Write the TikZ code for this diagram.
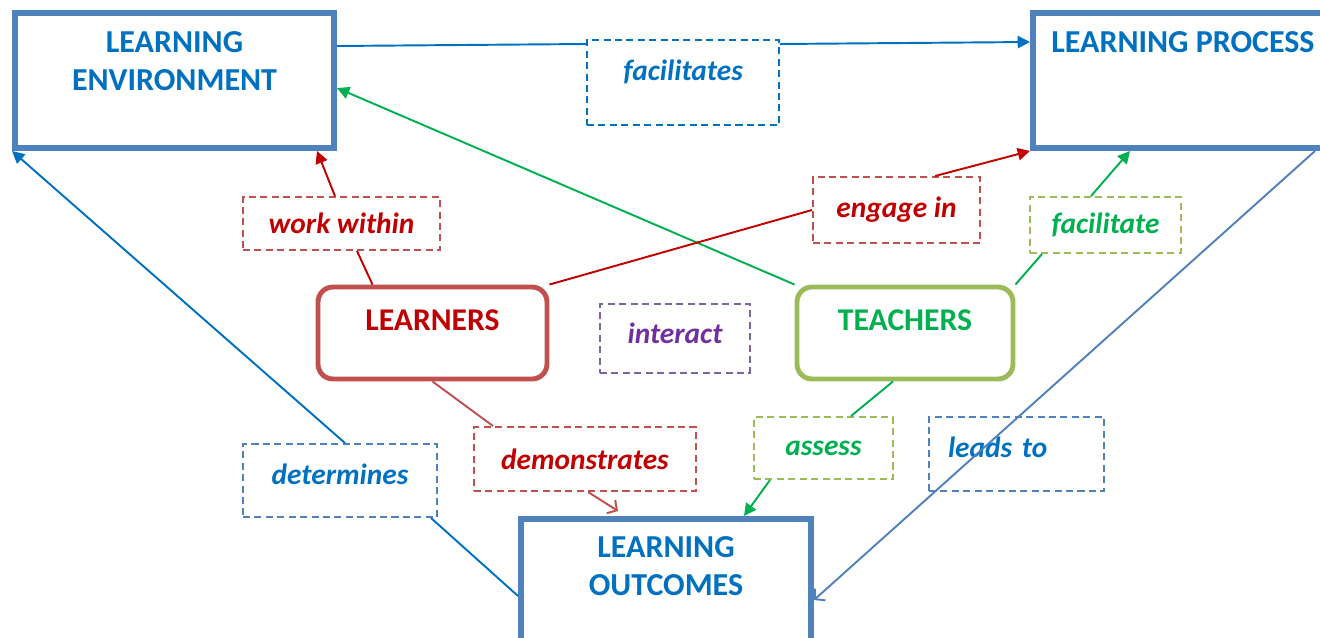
\documentclass[tikz,border=0pt]{standalone}
\usepackage{fontspec}
\setmainfont{Carlito}
\usepackage{tikz}
\usetikzlibrary{arrows.meta}
\usetikzlibrary{positioning}

\definecolor{boxblue}{HTML}{4F81BD}
\definecolor{txtblue}{HTML}{0070C0}
\definecolor{boxred}{HTML}{C0504D}
\definecolor{txtred}{HTML}{C00000}
\definecolor{boxgreen}{HTML}{9BBB59}
\definecolor{txtgreen}{HTML}{00B050}
\definecolor{boxpurple}{HTML}{8064A2}
\definecolor{txtpurple}{HTML}{7030A0}

\begin{document}
\begin{tikzpicture}[
  bigbox/.style={draw=boxblue, line width=3.4pt},
  bigtext/.style={text=txtblue, align=center, inner sep=0pt,
    font=\fontsize{18.2}{21.5}\selectfont\bfseries},
  role/.style={rounded corners=0.3cm, line width=2.8pt, minimum width=#1,
    minimum height=1.84cm, text depth=0.52cm,
    font=\fontsize{18}{21.5}\selectfont\bfseries},
  verb/.style={dash pattern=on 4pt off 2.5pt, line width=1.1pt,
    font=\fontsize{16.7}{20}\selectfont\bfseries\itshape},
  link/.style={line width=1.1pt},
  headed/.style={-{Triangle[length=7pt,width=7pt]}},
  openhead/.style={-{Straight Barb[length=4pt,width=9pt]}}]

\useasboundingbox (0,0) rectangle (26.4,-12.76);
\clip (0,0) rectangle (26.4,-12.76);

% concepts
\node[bigbox, minimum width=6.38cm, minimum height=2.7cm] (env) at (3.49,-1.61) {};
\node[bigtext, below=0.42cm of env.north] (envtext) {LEARNING\\ENVIRONMENT};

\node[bigbox, minimum width=6.4cm, minimum height=2.7cm] (proc) at (23.86,-1.61) {};
\node[bigtext, below right=0.42cm and 0.42cm of proc.north west] (proctext) {LEARNING PROCESS};

\node[bigbox, minimum width=5.8cm, minimum height=2.72cm] (out) at (13.32,-11.74) {};
\node[bigtext, below=0.40cm of out.north] (outtext) {LEARNING\\OUTCOMES};

\node[role=4.58cm, draw=boxred, text=txtred] (lrn) at (8.65,-6.66) {LEARNERS};
\node[role=4.32cm, draw=boxgreen, text=txtgreen] (tch) at (18.1,-6.66) {TEACHERS};

% relations
\node[verb, draw=txtblue, text=txtblue, minimum width=3.84cm, minimum height=1.7cm,
  text depth=0.48cm] (facilitates) at (13.66,-1.65) {facilitates};
\node[verb, draw=boxred, text=txtred, minimum width=3.94cm, minimum height=1.06cm]
  (within) at (6.83,-4.47) {work within};
\node[verb, draw=boxred, text=txtred, minimum width=3.34cm, minimum height=1.32cm]
  (engage) at (17.93,-4.2) {engage in};
\node[verb, draw=boxgreen, text=txtgreen, minimum width=3.02cm, minimum height=1.12cm]
  (facilitate) at (22.11,-4.5) {facilitate};
\node[verb, draw=boxpurple, text=txtpurple, minimum width=3cm, minimum height=1.38cm,
  text depth=0.2cm] (interact) at (13.5,-6.77) {interact};
\node[verb, draw=boxred, text=txtred, minimum width=4.44cm, minimum height=1.28cm]
  (demonstrates) at (11.7,-9.18) {demonstrates};
\node[verb, draw=boxgreen, text=txtgreen, minimum width=2.78cm, minimum height=1.24cm]
  (assess) at (16.47,-8.96) {assess};
\node[verb, draw=boxblue, text=txtblue, minimum width=3.5cm, minimum height=1.48cm,
  text depth=0.28cm, text width=2.74cm, align=left, inner xsep=0.38cm]
  (leads) at (20.33,-9.08) {leads to};
\node[verb, draw=boxblue, text=txtblue, minimum width=3.88cm, minimum height=1.46cm,
  text depth=0.24cm] (determines) at (6.8,-9.61) {determines};

% connectors
\draw[link, txtblue] ([yshift=0.69cm]env.east) -- ([yshift=0.77cm]facilitates.west);
\draw[link, txtblue, headed] ([yshift=0.77cm]facilitates.east) -- ([yshift=0.77cm]proc.west);

\draw[link, txtgreen, headed] (tch.north west) -- ([yshift=-0.15cm]env.east);

\draw[link, txtred] ([xshift=-1.2cm]lrn.north) -- ([xshift=0.31cm]within.south);
\draw[link, txtred, headed] ([xshift=-0.13cm]within.north) -- ([xshift=-0.4cm]env.south east);

\draw[link, txtred] (lrn.north east) -- (engage.west);
\draw[link, txtred, headed] ([xshift=0.77cm]engage.north) -- (proc.south west);

\draw[link, txtgreen] (tch.north east) -- ([xshift=0.26cm]facilitate.south west);
\draw[link, txtgreen, headed] ([xshift=-0.29cm]facilitate.north) -- ([xshift=2cm]proc.south west);

\draw[link, txtgreen] ([xshift=-0.24cm]tch.south) -- ([xshift=0.55cm]assess.north);
\draw[link, txtgreen, headed] ([xshift=-1.07cm]assess.south) -- ([xshift=1.56cm]out.north);

\draw[link, boxred] (lrn.south) -- ([xshift=0.4cm]demonstrates.north west);
\draw[link, boxred, openhead] ([xshift=0.06cm]demonstrates.south) -- ([xshift=-0.96cm,yshift=0.1cm]out.north);

\draw[link, txtblue] ([yshift=-0.18cm]out.west) -- ([xshift=-0.14cm]determines.south east);
\draw[link, txtblue, headed] ([xshift=0.1cm]determines.north) -- (env.south west);

\draw[link, boxblue, openhead] ([xshift=5.7cm]proc.south west) -- ([yshift=-0.26cm]out.east);
\end{tikzpicture}
\end{document}
